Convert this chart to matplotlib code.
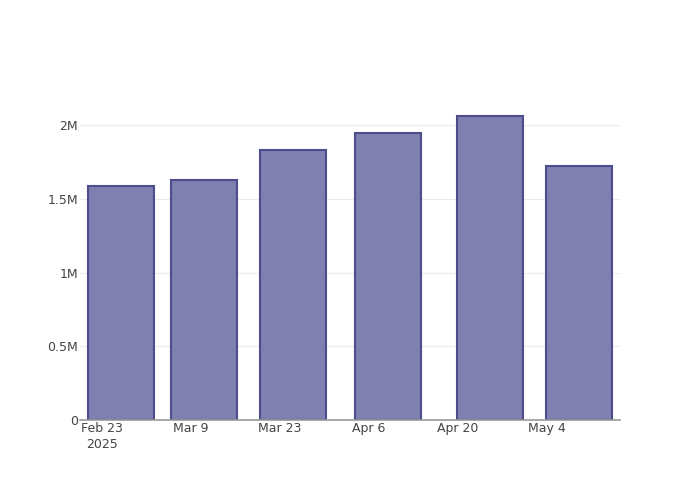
import matplotlib
matplotlib.use("Agg")
import matplotlib.pyplot as plt
import matplotlib.dates as mdates
import numpy as np
import datetime as dt

dates = ["2025-02-26", "2025-03-11", "2025-03-25", "2025-04-09", "2025-04-25", "2025-05-09"]
values = [1586000, 1627000, 1830000, 1946000, 2063000, 1720000]
tick_dates = ["2025-02-23", "2025-03-09", "2025-03-23", "2025-04-06", "2025-04-20", "2025-05-04"]
tick_labels = ["Feb 23\n2025", "Mar 9", "Mar 23", "Apr 6", "Apr 20", "May 4"]
y_ticks = [0, 500000, 1000000, 1500000, 2000000]
y_labels = ["0", "0.5M", "1M", "1.5M", "2M"]

plt.rcParams['font.family'] = ['DejaVu Sans']
fig = plt.figure(figsize=(7, 5), dpi=100)
ax = fig.add_axes([80/700, 80/500, 540/700, 320/500])

d = [mdates.date2num(dt.datetime.fromisoformat(s)) for s in dates]
diffs = np.diff(d)
width = 0.8 * diffs.min()
ax.bar(d, values, width=width, color='#7f7fb0', edgecolor='#4d4d8c', linewidth=1.5, zorder=3)

ax.set_xlim(min(d) - 6.5, max(d) + 6.5)
ax.set_ylim(0, max(values) * 1.052)

td = [mdates.date2num(dt.datetime.fromisoformat(s)) for s in tick_dates]
ax.set_xticks(td)
ax.set_xticklabels(tick_labels, fontsize=9, color='#444444', linespacing=1.3)
for lab in ax.get_xticklabels():
    lab.set_horizontalalignment('center')
ax.set_yticks(y_ticks)
ax.set_yticklabels(y_labels, fontsize=9, color='#444444')
ax.tick_params(axis='x', length=0, pad=1.5)
ax.tick_params(axis='y', length=0, pad=1.5)
ax.grid(axis='y', color='#ebebeb', linewidth=0.8, zorder=0)
for s in ['top', 'right', 'left']:
    ax.spines[s].set_visible(False)
ax.spines['bottom'].set_color('#999999')
ax.spines['bottom'].set_linewidth(1.2)
ax.spines['bottom'].set_zorder(4)

fig.savefig("out.png", dpi=100)
